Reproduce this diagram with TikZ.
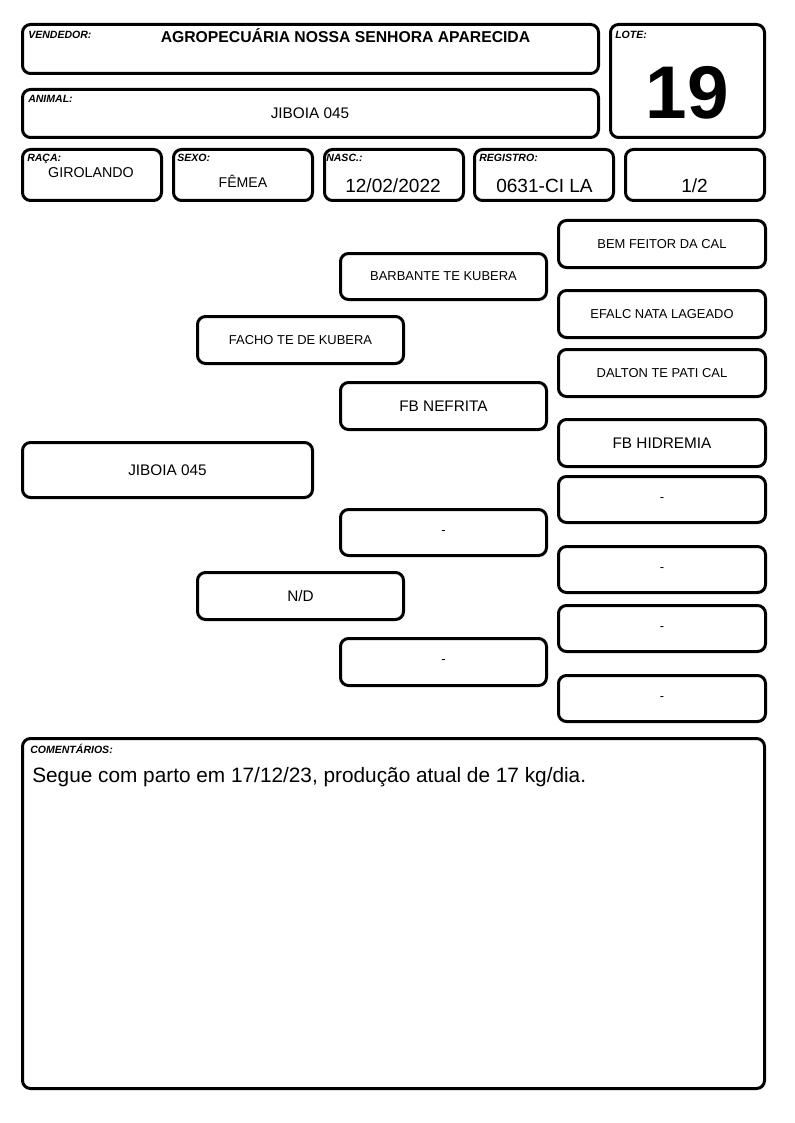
\documentclass[tikz,border=0pt]{standalone}
\usepackage{fontspec}
\setmainfont{Liberation Sans}
\newcommand\fs[1]{\fontsize{#1}{#1}\selectfont}
\tikzset{
  box/.style={draw=black, line width=2.25pt, rounded corners=6pt, fill=white, inner sep=0pt},
  lbl/.style={font=\fs{7.9pt}\bfseries\itshape, anchor=base west, inner sep=0pt},
  val/.style={anchor=base, inner sep=0pt},
  pedsm/.style={font=\fs{9.7pt}},
  pedlg/.style={font=\fs{11.5pt}}
}
% name, x1, y1, x2, y2, text, style
\newcommand\bxx[7]{\node[box, #7, anchor=north west, minimum width={(#4-#2-3)*0.75pt}, minimum height={(#5-#3-3)*0.75pt}] (#1) at (#2,#3) {#6};}
\begin{document}
\begin{tikzpicture}[x=0.75pt, y=-0.75pt]
\useasboundingbox (0,0) rectangle (794,1123);
% header
\bxx{vend}{21}{23}{600}{75}{}{}
\bxx{lote}{609}{23}{766}{139}{}{}
\bxx{anim}{21}{88}{600}{139}{}{}
\bxx{raca}{21}{148}{163}{202}{}{}
\bxx{sexo}{172}{148}{314}{202}{}{}
\bxx{nasc}{323}{148}{465}{202}{}{}
\bxx{reg}{473}{148}{615}{202}{}{}
\bxx{frac}{624}{148}{766}{202}{}{}
\node[lbl] (lvend) at (28,39) {VENDEDOR:};
\node[lbl] (llote) at (615,39) {LOTE:};
\node[lbl] (lanim) at (28,103) {ANIMAL:};
\node[lbl] (lraca) at (27,162) {RAÇA:};
\node[lbl] (lsexo) at (177,162) {SEXO:};
\node[lbl] (lnasc) at (326,162) {NASC.:};
\node[lbl] (lreg) at (479,162) {REGISTRO:};
\node[val, font=\fs{11.8pt}\bfseries] (vvend) at (345.5,43) {AGROPECUÁRIA NOSSA SENHORA APARECIDA};
\node[val, font=\fs{56pt}\bfseries] (vlote) at (687.5,119) {19};
\node[val, font=\fs{11.5pt}] (vanim) at (310,119) {JIBOIA 045};
\node[val, font=\fs{10.7pt}] (vraca) at (91,178) {GIROLANDO};
\node[val, font=\fs{10.6pt}] (vsexo) at (243,188) {FÊMEA};
\node[val, font=\fs{14.3pt}] (vnasc) at (393,193) {12/02/2022};
\node[val, font=\fs{14.3pt}] (vreg) at (544.5,193) {0631-CI LA};
\node[val, font=\fs{14.3pt}] (vfrac) at (694.5,193) {1/2};
% pedigree
\bxx{p0}{21}{441}{314}{499}{JIBOIA 045}{pedlg}
\bxx{p1}{196}{315}{405}{365}{FACHO TE DE KUBERA}{pedsm}
\bxx{p2}{196}{571}{405}{621}{N/D}{pedlg}
\bxx{p11}{339}{252}{548}{301}{BARBANTE TE KUBERA}{pedsm}
\bxx{p12}{339}{381}{548}{431}{FB NEFRITA}{pedlg}
\bxx{p21}{339}{508}{548}{557}{-}{pedsm}
\bxx{p22}{339}{637}{548}{687}{-}{pedsm}
\bxx{p111}{557}{219}{767}{269}{BEM FEITOR DA CAL}{pedsm}
\bxx{p112}{557}{289}{767}{339}{EFALC NATA LAGEADO}{pedsm}
\bxx{p121}{557}{348}{767}{398}{DALTON TE PATI CAL}{pedsm}
\bxx{p122}{557}{418}{767}{468}{FB HIDREMIA}{pedlg}
\bxx{p211}{557}{475}{767}{524}{-}{pedsm}
\bxx{p212}{557}{545}{767}{594}{-}{pedsm}
\bxx{p221}{557}{604}{767}{653}{-}{pedsm}
\bxx{p222}{557}{674}{767}{723}{-}{pedsm}
% comments
\bxx{com}{21}{737}{766}{1090}{}{}
\node[lbl] (lcom) at (30,753) {COMENTÁRIOS:};
\node[anchor=base west, inner sep=0pt, font=\fs{15.6pt}] (vcom) at (32,782) {Segue com parto em 17/12/23, produção atual de 17 kg/dia.};
\end{tikzpicture}
\end{document}
